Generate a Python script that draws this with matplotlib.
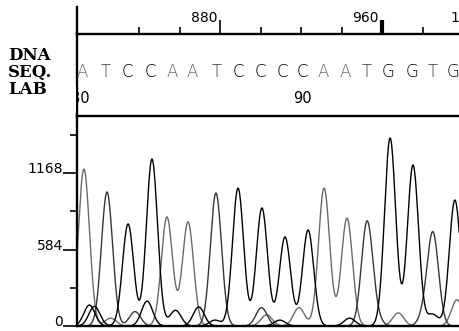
import numpy as np
import matplotlib
matplotlib.use("Agg")
import matplotlib.pyplot as plt
from matplotlib.transforms import blended_transform_factory, offset_copy
from matplotlib.patches import Rectangle

# ---------------- data ----------------
bases = list("ATCCAATCCCCAATGGTG")
base_pos = [811.9, 823.3, 834.2, 845.6, 856.5, 866.3, 878.5, 888.9, 899.8,
            910.6, 920.5, 930.9, 941.7, 952.6, 963.0, 974.8, 985.2, 995.1]
base_numbers = [80, 90]
base_number_pos = [811.0, 920.5]

ruler_major = [880, 960]
ruler_minor = [840, 860, 900, 920, 940, 980]
ruler_edge_label = "1"

y_major = [0, 584, 1168]
y_minor = [292, 876, 1460]

# peaks (position, height) per trace
A_pos = [812.8, 853.8, 864.2, 931.4, 942.7, 903.0, 919.0, 968.0, 997.0, 826.0]
A_h = [1198, 832, 794, 1053, 824, 85, 140, 100, 200, 60]
T_pos = [824.2, 878.0, 952.6, 985.2, 900.5, 957.0, 981.0, 838.0]
T_h = [1023, 1015, 786, 695, 140, 60, 80, 110]
C_pos = [834.6, 846.4, 888.9, 900.7, 912.1, 923.5, 818.0, 858.0, 877.5, 944.0]
C_h = [779, 1275, 1053, 901, 680, 733, 150, 120, 45, 60]
G_pos = [964.0, 975.3, 996.0, 815.5, 844.0, 869.5, 909.5, 985.0]
G_h = [1435, 1229, 962, 160, 190, 145, 45, 90]
peak_width = 2.75

colors = {"A": "#6a6a6a", "T": "#363636", "C": "#000000", "G": "#000000"}

# ---------------- figure ----------------
W, H = 459, 331
dpi = 100
fig = plt.figure(figsize=(W / dpi, H / dpi), dpi=dpi)

x0, x1 = 77, 459
xlim = (880 + (x0 - 220) / 2.025, 880 + (x1 - 220) / 2.025)

def fax(top, bottom):
    return [x0 / W, (H - bottom) / H, (x1 - x0) / W, (bottom - top) / H]

ax_r = fig.add_axes(fax(7, 34))
ax_s = fig.add_axes(fax(34, 116))
ax_t = fig.add_axes(fax(116, 326))

spine_lw = 1.7
for ax in (ax_r, ax_s, ax_t):
    ax.set_xlim(*xlim)
    ax.patch.set_alpha(0)
    for s in ("top", "right"):
        ax.spines[s].set_visible(False)
    ax.spines["left"].set_linewidth(spine_lw)
    ax.spines["bottom"].set_linewidth(spine_lw)

# ---- ruler ----
ax_r.set_ylim(0, 1)
ax_r.set_yticks([])
ax_r.set_xticks(ruler_major)
ax_r.set_xticks(ruler_minor, minor=True)
ax_r.set_xticklabels([])
ax_r.tick_params(axis="x", which="major", direction="in", length=10, width=1.2)
ax_r.tick_params(axis="x", which="minor", direction="in", length=5, width=1.2)
ax_r.xaxis.get_major_ticks()[1].tick1line.set_markeredgewidth(3)
tr = blended_transform_factory(ax_r.transData, ax_r.transAxes)
tr_l = offset_copy(tr, fig=fig, x=-3, y=0, units="dots")
for v in ruler_major:
    ax_r.text(v, 0.45, str(v), transform=tr_l, ha="right", va="baseline",
              fontsize=10, family="DejaVu Sans", clip_on=False)
ax_r.text(995.5, 0.45, ruler_edge_label, transform=tr_l, ha="left", va="baseline",
          fontsize=10, family="DejaVu Sans", clip_on=False)

# ---- sequence ----
ax_s.set_ylim(0, 1)
ax_s.set_xticks([])
ax_s.set_yticks([])
ts = blended_transform_factory(ax_s.transData, ax_s.transAxes)
for b, p in zip(bases, base_pos):
    ax_s.text(p, 0.48, b, transform=ts, ha="center", va="baseline",
              fontsize=12, family="DejaVu Sans", fontweight="light",
              color=colors[b])
for n, p in zip(base_numbers, base_number_pos):
    ax_s.text(p, 0.16, str(n), transform=ts, ha="center", va="baseline",
              fontsize=10.5, family="DejaVu Sans", clip_on=True)

# mask: the sequence panel cuts its labels off at the axis line
fig.patches.append(Rectangle(((x0 - 16) / W, (H - 112) / H), 14.6 / W, 26 / H,
                             transform=fig.transFigure, facecolor="white",
                             edgecolor="none", zorder=1))

for lab, ypix in zip(["DNA", "SEQ.", "LAB"], [60, 77, 94]):
    fig.text(8 / W, (H - ypix) / H, lab, ha="left", va="baseline",
             fontsize=12, family="DejaVu Serif", fontweight="bold", zorder=3)

# ---- traces ----
x = np.linspace(xlim[0] - 5, xlim[1] + 5, 1500)
def trace(pos, h):
    y = np.zeros_like(x)
    for p, hh in zip(pos, h):
        y += hh * np.exp(-0.5 * ((x - p) / peak_width) ** 2)
    return y

for key, pos, h in (("A", A_pos, A_h), ("T", T_pos, T_h),
                    ("C", C_pos, C_h), ("G", G_pos, G_h)):
    ax_t.plot(x, trace(pos, h), color=colors[key], lw=1.0)

ypix_per_unit = 76.5 / 584
ax_t.set_ylim(0, (326 - 116) / ypix_per_unit)
ax_t.set_xticks([])
ax_t.set_yticks(y_major)
ax_t.set_yticks(y_minor, minor=True)
ax_t.set_yticklabels([str(v) for v in y_major], va="baseline",
                     fontsize=10, family="DejaVu Sans")
ax_t.tick_params(axis="y", which="major", direction="out", length=10, width=1.2, pad=0)
ax_t.tick_params(axis="y", which="minor", direction="out", length=5, width=1.2)

fig.savefig("out.png", dpi=dpi)
